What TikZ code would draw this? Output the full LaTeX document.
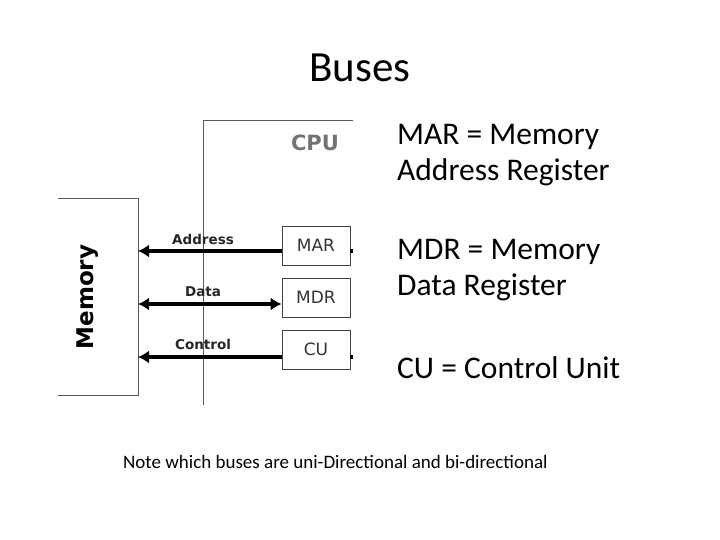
\documentclass[tikz,border=0pt]{standalone}
\usepackage{fontspec}
\setmainfont{Carlito}
\newfontfamily\dv{DejaVu Sans}
\usetikzlibrary{arrows.meta}
\begin{document}
\begin{tikzpicture}[x=1pt,y=-1pt,
  reg/.style={draw=black!75,line width=0.8pt,minimum width=68pt,minimum height=39pt,inner sep=0pt,font=\dv\fontsize{17}{20}\selectfont,text=black!80},
  bus/.style={line width=3.5pt,-{Latex[length=11pt,width=13pt]}},
  bl/.style={font=\dv\bfseries\fontsize{13.5}{16}\selectfont,text=black!85},
  txt/.style={font=\fontsize{31.5}{36}\selectfont,anchor=north west,align=left,inner sep=0pt}]
\useasboundingbox (0,0) rectangle (720,540);
\node (title) at (360,68) {\fontsize{43}{50}\selectfont Buses};
\draw[black!65,line width=1pt] (203,405) -- (203,121) -- (353,121);
\draw[black!65,line width=1pt] (58,199) -- (138,199) -- (138,395) -- (58,395);
\node (mem) [rotate=90,font=\dv\bfseries\fontsize{23}{26}\selectfont] at (88,297) {Memory};
\node (cpu) [font=\dv\bfseries\fontsize{21}{24}\selectfont,text=black!55] at (315,143) {CPU};
\node (mar) [reg] at (316,245.5) {MAR};
\node (mdr) [reg] at (316,297.5) {MDR};
\node (cu) [reg] at (316,349.5) {CU};
\coordinate (ma) at (138,251);
\coordinate (md) at (138,304);
\coordinate (mc) at (138,357);
\draw[bus] (mar.west|-ma) -- (ma);
\draw[bus,{Latex[length=11pt,width=13pt]}-{Latex[length=11pt,width=13pt]}] (md) -- (mdr.west|-md);
\draw[bus] (cu.west|-mc) -- (mc);
\draw[line width=3.5pt] (mar.east|-ma) -- ++(3,0);
\draw[line width=3.5pt] (cu.east|-mc) -- ++(3,0);
\node[bl] at (203,239) {Address};
\node[bl] at (203,292) {Data};
\node[bl] at (203,344) {Control};
\node (t1) [txt] at (397,124) {MAR = Memory\\Address Register};
\node (t2) [txt] at (397,239) {MDR = Memory\\Data Register};
\node (t3) [txt] at (397,356) {CU = Control Unit};
\node (note) [anchor=west,inner sep=0pt,font=\fontsize{19}{22}\selectfont] at (123,462) {Note which buses are uni-Directional and bi-directional};
\end{tikzpicture}
\end{document}
